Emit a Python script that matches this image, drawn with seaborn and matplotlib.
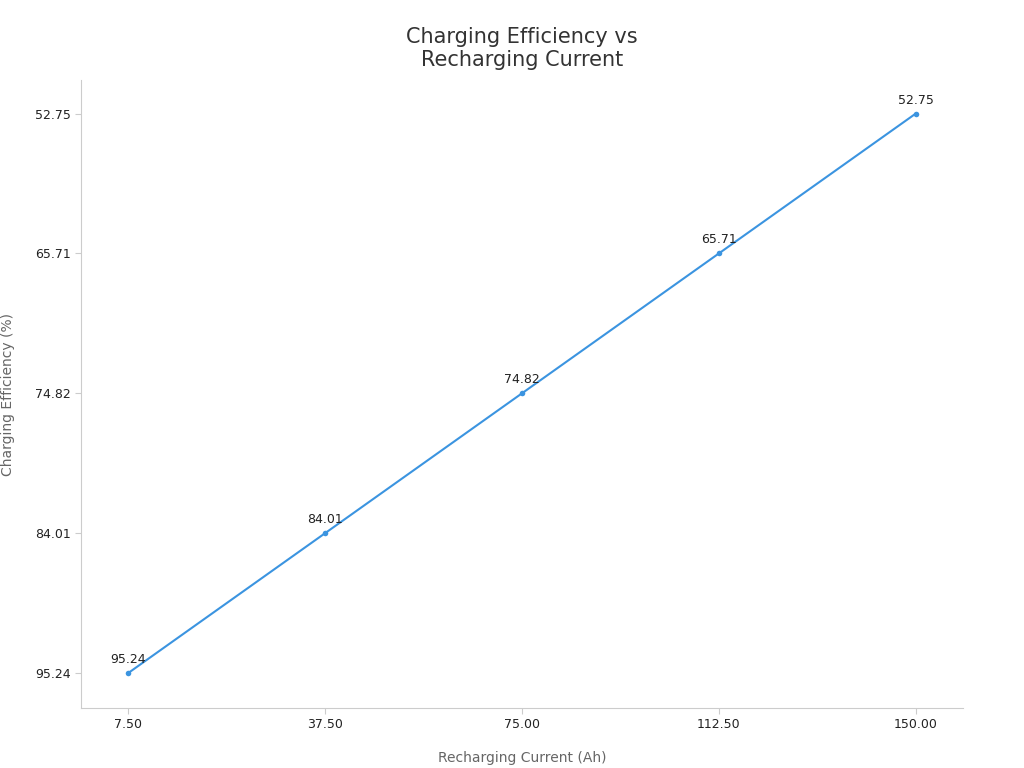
import matplotlib
matplotlib.use("Agg")
import matplotlib.pyplot as plt
import seaborn as sns
import pandas as pd

# data
current_labels = ["7.50", "37.50", "75.00", "112.50", "150.00"]
efficiency = [95.24, 84.01, 74.82, 65.71, 52.75]

df = pd.DataFrame({
    "pos": range(len(current_labels)),
    "eff_pos": range(len(efficiency)),
})

sns.set_style("white")
fig = plt.figure(figsize=(10.24, 7.68), dpi=100)
ax = fig.add_axes([81 / 1024, 60 / 768, 882 / 1024, 628 / 768])

line_color = "#3b94e0"
sns.lineplot(data=df, x="pos", y="eff_pos", ax=ax, color=line_color,
             linewidth=1.5, marker="o", markersize=4, markeredgewidth=0)

for i, v in enumerate(efficiency):
    ax.annotate(f"{v:.2f}", (df["pos"][i], df["eff_pos"][i]),
                xytext=(0, 5), textcoords="offset points",
                ha="center", va="bottom", fontsize=9, color="#222222")

ax.set_xlim(-0.24, 4.24)
ax.set_ylim(-0.25, 4.24)
ax.set_xticks(df["pos"])
ax.set_xticklabels(current_labels)
ax.set_yticks(df["eff_pos"])
ax.set_yticklabels([f"{v:.2f}" for v in efficiency])
ax.tick_params(axis="both", labelsize=9, colors="#222222", length=4,
               color="#cccccc", left=True, bottom=True)

for s in ["top", "right"]:
    ax.spines[s].set_visible(False)
for s in ["left", "bottom"]:
    ax.spines[s].set_color("#cccccc")
    ax.spines[s].set_linewidth(0.8)

ax.set_xlabel("Recharging Current (Ah)", fontsize=10, color="#666666", labelpad=14)
ax.set_ylabel("Charging Efficiency (%)", fontsize=10, color="#666666", labelpad=14)
ax.set_title("Charging Efficiency vs\nRecharging Current", fontsize=15,
             color="#333333", pad=10)

fig.savefig("out.png", dpi=100)
